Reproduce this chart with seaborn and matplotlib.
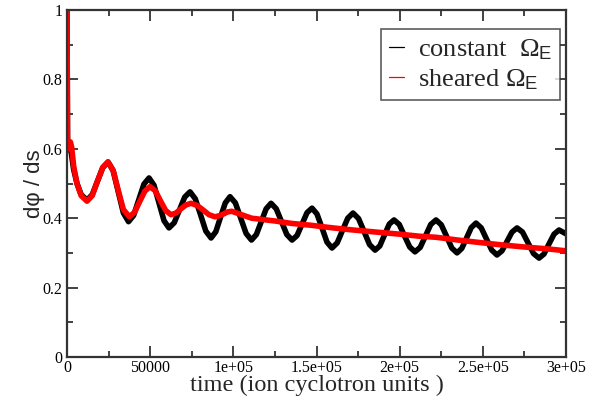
import numpy as np
import pandas as pd
import matplotlib
matplotlib.use("Agg")
import matplotlib.pyplot as plt
from matplotlib.lines import Line2D
from matplotlib.ticker import MultipleLocator, FixedLocator
import seaborn as sns

# ---- data ----
t_const = [0, 300, 1500, 2500, 4000, 6000, 8500, 12000,
           15160, 18330, 21490, 24650,
           27730, 30810, 33890, 36970,
           40050, 43130, 46220, 49300,
           52300, 55300, 58300, 61300,
           64460, 67630, 70790, 73950,
           77110, 80280, 83440, 86600,
           89450, 92300, 95150, 98000,
           101225, 104450, 107675, 110900,
           113840, 116780, 119710, 122650,
           125810, 128980, 132140, 135300,
           138300, 141300, 144300, 147300,
           150300, 153300, 156300, 159300,
           162460, 165630, 168790, 171950,
           175260, 178580, 181890, 185200,
           188050, 190900, 193750, 196600,
           199750, 202900, 206050, 209200,
           212360, 215530, 218690, 221850,
           225010, 228180, 231340, 234500,
           237350, 240200, 243050, 245900,
           249050, 252200, 255350, 258500,
           261510, 264520, 267540, 270550,
           273860, 277170, 280490, 283800,
           286800, 289800, 292800, 295800, 300000]
v_const = [1.0, 0.62, 0.60, 0.59, 0.54, 0.50, 0.468, 0.452,
           0.468, 0.507, 0.546, 0.562,
           0.537, 0.476, 0.415, 0.390,
           0.408, 0.453, 0.498, 0.516,
           0.495, 0.444, 0.393, 0.372,
           0.387, 0.424, 0.461, 0.476,
           0.456, 0.410, 0.363, 0.343,
           0.361, 0.403, 0.444, 0.462,
           0.444, 0.400, 0.356, 0.337,
           0.353, 0.390, 0.427, 0.443,
           0.427, 0.390, 0.353, 0.337,
           0.350, 0.383, 0.416, 0.429,
           0.412, 0.372, 0.331, 0.314,
           0.329, 0.365, 0.400, 0.415,
           0.399, 0.362, 0.324, 0.308,
           0.320, 0.352, 0.383, 0.395,
           0.382, 0.349, 0.317, 0.303,
           0.316, 0.349, 0.382, 0.395,
           0.381, 0.348, 0.314, 0.300,
           0.313, 0.343, 0.373, 0.386,
           0.372, 0.340, 0.308, 0.294,
           0.306, 0.333, 0.360, 0.372,
           0.360, 0.329, 0.298, 0.285,
           0.297, 0.326, 0.354, 0.366, 0.355]

t_shear = [0, 300, 1200, 2000, 2800, 4000, 6000, 8500, 12000,
           15160, 18330, 21490, 24650,
           27730, 30810, 33890, 37500,
           40600, 43700, 46800, 49900,
           53050, 56200, 59350, 62500,
           65500, 68500, 71500, 74500,
           78125, 81750, 85375, 89000,
           91500, 94000, 96500, 99000,
           105000, 111000, 118000, 125000, 135000, 146000, 160000, 172000,
           186000, 200000, 212000, 222000, 235000, 248000, 261500, 275000,
           288000, 300000]
v_shear = [1.0, 0.63, 0.60, 0.62, 0.605, 0.55, 0.50, 0.465, 0.449,
           0.465, 0.507, 0.546, 0.562,
           0.538, 0.480, 0.425, 0.404,
           0.417, 0.448, 0.478, 0.491,
           0.479, 0.450, 0.422, 0.410,
           0.415, 0.427, 0.438, 0.443,
           0.437, 0.424, 0.410, 0.404,
           0.407, 0.412, 0.418, 0.420,
           0.410, 0.400, 0.396, 0.392, 0.385, 0.380, 0.372, 0.366,
           0.360, 0.354, 0.348, 0.345, 0.337, 0.330, 0.323, 0.317,
           0.312, 0.306]

x_ticks = [0, 50000, 100000, 150000, 200000, 250000, 300000]
x_tick_labels = ["0", "50000", "1e+05", "1.5e+05", "2e+05", "2.5e+05", "3e+05"]
y_ticks = [0, 0.2, 0.4, 0.6, 0.8, 1.0]
y_tick_labels = ["0", "0.2", "0.4", "0.6", "0.8", "1"]
series_names = ["constant  $\\mathrm{\\Omega}_{\\mathsf{E}}$",
                "sheared $\\mathrm{\\Omega}_{\\mathsf{E}}$"]
series_colors = ["black", "#ff0000"]

# ---- plotting ----
sns.set_style("ticks")
plt.rcParams["font.family"] = ["Liberation Serif", "DejaVu Serif"]
plt.rcParams["mathtext.fontset"] = "custom"
plt.rcParams["mathtext.rm"] = "Liberation Serif"
plt.rcParams["mathtext.it"] = "Liberation Serif:italic"
plt.rcParams["mathtext.sf"] = "Liberation Sans"

fig = plt.figure(figsize=(5.91, 4.12), dpi=100)
ax = fig.add_axes([0.1134, 0.1335, 0.8443, 0.8422])

df_c = pd.DataFrame({"t": t_const, "v": v_const})
df_s = pd.DataFrame({"t": t_shear, "v": v_shear})
sns.lineplot(data=df_c, x="t", y="v", ax=ax, color=series_colors[0], lw=4.0,
             estimator=None, sort=False, solid_joinstyle="round")
sns.lineplot(data=df_s, x="t", y="v", ax=ax, color=series_colors[1], lw=4.0,
             estimator=None, sort=False, solid_joinstyle="round")

ax.set_xlim(0, 300000)
ax.set_ylim(0, 1)
ax.xaxis.set_major_locator(FixedLocator(x_ticks))
ax.set_xticklabels(x_tick_labels)
ax.yaxis.set_major_locator(FixedLocator(y_ticks))
ax.set_yticklabels(y_tick_labels)
ax.xaxis.set_minor_locator(MultipleLocator(25000))
ax.yaxis.set_minor_locator(MultipleLocator(0.1))
ax.tick_params(which="both", direction="in", top=True, right=True,
               labelsize=11.5, colors="#333333", labelcolor="black", width=1.3)
ax.tick_params(axis="x", which="major", pad=2.5)
ax.tick_params(which="major", length=8)
ax.tick_params(which="minor", length=4)
for s in ax.spines.values():
    s.set_linewidth(1.6)
    s.set_color("#333333")
    s.set_visible(True)

ax.set_xlabel("time (ion cyclotron units )", fontsize=17.5, labelpad=-1)
ax.set_ylabel("d\u03c6 / ds", fontsize=16, family=["Liberation Sans", "DejaVu Sans"], labelpad=-2)

handles = [Line2D([0], [0], color=c, lw=0.9) for c in series_colors]
leg = ax.legend(handles, series_names, loc="upper right", fontsize=19,
                frameon=True, fancybox=False, edgecolor="#333333",
                handlelength=0.6, handletextpad=0.5, borderpad=0.3,
                labelspacing=0.22, borderaxespad=0,
                bbox_to_anchor=(0.988, 0.945))
leg.get_frame().set_linewidth(1.2)

fig.savefig("out.png", dpi=100)
